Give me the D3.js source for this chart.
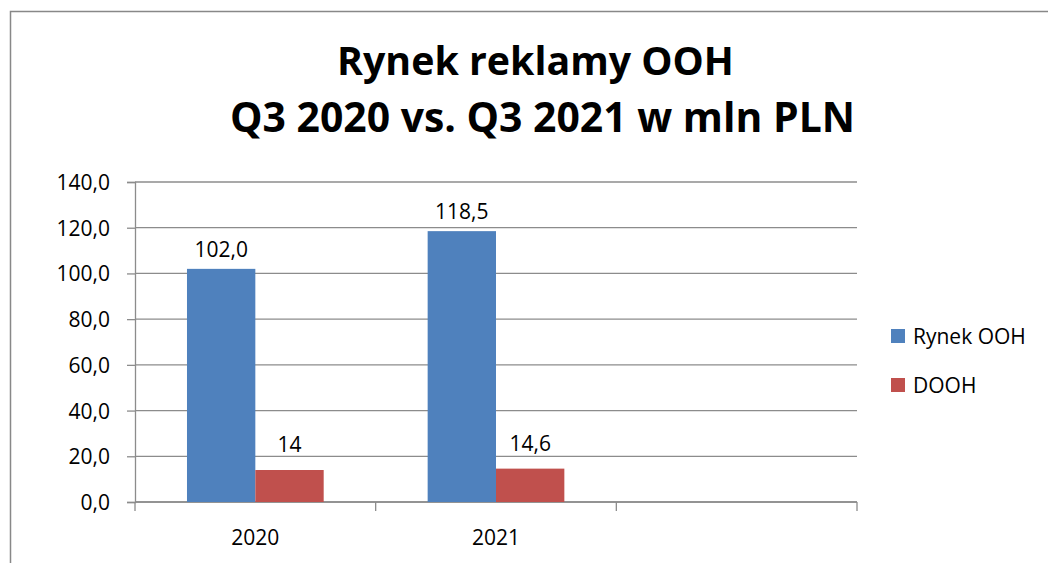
<!DOCTYPE html>
<html>
<head>
<meta charset="utf-8">
<script src="https://cdn.jsdelivr.net/npm/d3@7"></script>
<style>
  body { margin: 0; background: #fff; }
  text { font-family: "Open Sans", sans-serif; fill: #000; }
</style>
</head>
<body>
<div id="chart"></div>
<script>
// data
var categories = ["2020", "2021", ""];
var seriesNames = ["Rynek OOH", "DOOH"];
var rynekOOH = [102.0, 118.5, null];
var dooh = [14, 14.6, null];
var dataLabels = [["102,0", "118,5", ""], ["14", "14,6", ""]];
var yTicks = [0, 20, 40, 60, 80, 100, 120, 140];
var titleLines = ["Rynek reklamy OOH", "Q3 2020 vs. Q3 2021 w mln PLN"];
var colors = ["#4F81BD", "#C0504D"];

var svgWidth = 1048;
var svgHeight = 563;

var margin = { top: 182, left: 135, right: 191, bottom: 61 };
var width = svgWidth - margin.left - margin.right;
var height = svgHeight - margin.top - margin.bottom;

var svg = d3.select("#chart")
    .append("svg")
    .attr("width", svgWidth)
    .attr("height", svgHeight);

// outer border of chart area
svg.append("rect")
    .attr("x", 10.5)
    .attr("y", 11.5)
    .attr("width", 1100)
    .attr("height", 600)
    .attr("fill", "none")
    .attr("stroke", "#888")
    .attr("stroke-width", 1.5);

// title, sized to the widths in the original
var titleSpec = [{ cx: 535.5, y: 75, w: 397 }, { cx: 542.5, y: 132, w: 625 }];
titleLines.forEach(function(line, i) {
    var t = svg.append("text")
        .attr("x", titleSpec[i].cx)
        .attr("y", titleSpec[i].y)
        .attr("text-anchor", "middle")
        .attr("font-weight", "bold")
        .attr("font-size", "34px")
        .text(line);
    var w = t.node().getComputedTextLength();
    t.attr("font-size", (34 * titleSpec[i].w / w).toFixed(1) + "px");
});

var chartGroup = svg.append("g")
    .attr("transform", `translate(${margin.left}, ${margin.top})`);

var xScale = d3.scaleBand()
    .domain(categories)
    .range([0, width]);

var groupWidth = xScale.bandwidth() * 0.568;
var xInner = d3.scaleBand()
    .domain(seriesNames)
    .range([0, groupWidth]);

var yScale = d3.scaleLinear()
    .domain([0, 140])
    .range([height, 0]);

var fmt = d => d.toFixed(1).replace(".", ",");

// gridlines
chartGroup.append("g")
    .selectAll("line")
    .data(yTicks)
    .enter()
    .append("line")
    .attr("x1", 0)
    .attr("x2", width)
    .attr("y1", d => yScale(d))
    .attr("y2", d => yScale(d))
    .attr("stroke", "#8c8c8c")
    .attr("stroke-width", 1.3);

// y axis
var yAxis = d3.axisLeft(yScale).tickValues(yTicks).tickFormat(fmt).tickSize(8).tickPadding(17);
var yG = chartGroup.append("g").call(yAxis);
yG.select(".domain").attr("stroke", "#8c8c8c").attr("stroke-width", 1.3);
yG.selectAll(".tick line").attr("stroke", "#8c8c8c").attr("stroke-width", 1.3);
yG.selectAll(".tick text")
    .attr("font-size", "21px")
    .attr("font-family", "'Open Sans', sans-serif")
    .attr("fill", "#000")
    .attr("dy", "0.36em");

// x axis
var xG = chartGroup.append("g").attr("transform", `translate(0, ${height})`);
xG.append("line").attr("x1", 0).attr("x2", width).attr("stroke", "#8c8c8c").attr("stroke-width", 1.3);
var xTickPos = categories.map(c => xScale(c)).concat([width]);
xG.selectAll(".xtick")
    .data(xTickPos)
    .enter()
    .append("line")
    .attr("x1", d => d).attr("x2", d => d)
    .attr("y1", 0).attr("y2", 9)
    .attr("stroke", "#8c8c8c").attr("stroke-width", 1.3);
xG.selectAll(".xlabel")
    .data(categories)
    .enter()
    .append("text")
    .attr("x", d => xScale(d) + xScale.bandwidth() / 2)
    .attr("y", 43)
    .attr("text-anchor", "middle")
    .attr("font-size", "21px")
    .text(d => d);

// bars
var series = [rynekOOH, dooh];
var labelOffsets = [12, 18];
series.forEach(function(values, si) {
    var g = chartGroup.append("g");
    var rows = categories.map((c, i) => ({ cat: c, value: values[i], label: dataLabels[si][i] }))
        .filter(d => d.value != null);
    var barX = d => xScale(d.cat) + (xScale.bandwidth() - groupWidth) / 2 + xInner(seriesNames[si]);
    g.selectAll("rect")
        .data(rows)
        .enter()
        .append("rect")
        .attr("x", barX)
        .attr("y", d => yScale(d.value))
        .attr("width", xInner.bandwidth())
        .attr("height", d => height - yScale(d.value))
        .attr("fill", colors[si]);
    g.selectAll("text")
        .data(rows)
        .enter()
        .append("text")
        .attr("x", d => barX(d) + xInner.bandwidth() / 2)
        .attr("y", d => yScale(d.value) - labelOffsets[si])
        .attr("text-anchor", "middle")
        .attr("font-size", "21px")
        .text(d => d.label);
});

// legend
var legend = svg.append("g").attr("transform", "translate(891, 329)");
seriesNames.forEach(function(name, i) {
    legend.append("rect")
        .attr("x", 0)
        .attr("y", i * 49)
        .attr("width", 14)
        .attr("height", 14)
        .attr("fill", colors[i]);
    legend.append("text")
        .attr("x", 22)
        .attr("y", i * 49 + 15)
        .attr("font-size", "21px")
        .text(name);
});
</script>
</body>
</html>
